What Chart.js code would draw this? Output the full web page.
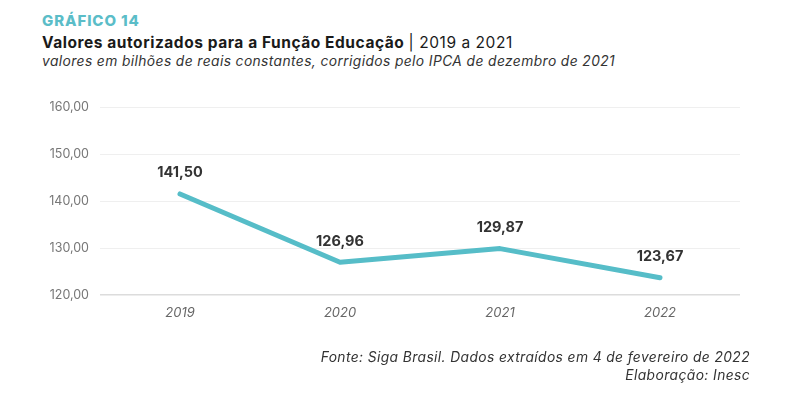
<!DOCTYPE html>
<html>
<head>
<meta charset="utf-8">
<script src="https://cdn.jsdelivr.net/npm/chart.js@4/dist/chart.umd.min.js"></script>
<style>
  html, body { margin: 0; padding: 0; background: #fff; }
  #wrap { position: relative; width: 790px; height: 400px; overflow: hidden; font-family: Inter, "Open Sans", sans-serif; }
  canvas { position: absolute; left: 0; top: 0; }
  .t { position: absolute; white-space: nowrap; }
  #t1 { left: 42px; top: 11px; font-size: 15px; font-weight: 800; color: #5bbdc8; letter-spacing: 0.9px; }
  #t2 { left: 42px; top: 33px; font-size: 15.5px; font-weight: 700; color: #1a1a1a; letter-spacing: 0.55px; }
  #t2 span { font-weight: 400; }
  #t3 { left: 42px; top: 53px; font-size: 13.8px; font-style: italic; color: #333; letter-spacing: 0.4px; }
  #f1 { right: 40px; top: 349px; font-size: 13.8px; font-style: italic; color: #333; text-align: right; letter-spacing: 0.4px; }
  #f2 { right: 40px; top: 367px; font-size: 13.8px; font-style: italic; color: #333; text-align: right; letter-spacing: 0.4px; }
</style>
</head>
<body>
<div id="wrap">
  <div class="t" id="t1">GRÁFICO 14</div>
  <div class="t" id="t2">Valores autorizados para a Função Educação <span>| 2019 a 2021</span></div>
  <div class="t" id="t3">valores em bilhões de reais constantes, corrigidos pelo IPCA de dezembro de 2021</div>
  <canvas id="c" width="790" height="400"></canvas>
  <div class="t" id="f1">Fonte: Siga Brasil. Dados extraídos em 4 de fevereiro de 2022</div>
  <div class="t" id="f2">Elaboração: Inesc</div>
</div>
<script>
const categories = ["2019", "2020", "2021", "2022"];
const values = [141.50, 126.96, 129.87, 123.67];
const yTicks = [120, 130, 140, 150, 160];

const fmt = v => v.toFixed(2).replace('.', ',');

const labelPlugin = {
  id: 'valueLabels',
  afterDatasetsDraw(chart) {
    const ctx = chart.ctx;
    const meta = chart.getDatasetMeta(0);
    ctx.save();
    ctx.font = 'bold 14.5px Inter, "Open Sans", sans-serif';
    ctx.fillStyle = '#333';
    ctx.textAlign = 'center';
    ctx.textBaseline = 'middle';
    meta.data.forEach((pt, i) => {
      ctx.fillText(fmt(values[i]), pt.x, pt.y - 21);
    });
    ctx.restore();
  }
};

new Chart(document.getElementById('c'), {
  type: 'line',
  data: {
    labels: categories,
    datasets: [{
      data: values,
      borderColor: '#56bdc8',
      borderWidth: 5,
      pointRadius: 0,
      tension: 0,
      borderCapStyle: 'round',
      borderJoinStyle: 'round',
      fill: false
    }]
  },
  options: {
    responsive: false,
    animation: false,
    layout: { padding: { left: 0, right: 50, top: 107, bottom: 75 } },
    plugins: { legend: { display: false }, tooltip: { enabled: false } },
    scales: {
      x: {
        offset: true,
        grid: { display: false, drawTicks: false },
        border: { display: false },
        ticks: { color: '#666', font: { family: 'Inter, "Open Sans", sans-serif', size: 13, style: 'italic' }, padding: 10 },
        afterFit(s) { s.height = 30; }
      },
      y: {
        min: 120, max: 160,
        afterBuildTicks(s) { s.ticks = yTicks.map(v => ({ value: v })); },
        grid: {
          drawTicks: false,
          color: c => c.tick && c.tick.value === 120 ? '#dcdcdc' : '#efefef',
          lineWidth: c => c.tick && c.tick.value === 120 ? 1.5 : 1
        },
        border: { display: false },
        ticks: {
          color: '#777',
          font: { family: 'Inter, "Open Sans", sans-serif', size: 12.5 },
          padding: 11,
          callback: v => fmt(v)
        },
        afterFit(s) { s.width = 100; }
      }
    }
  },
  plugins: [labelPlugin]
});
</script>
</body>
</html>
